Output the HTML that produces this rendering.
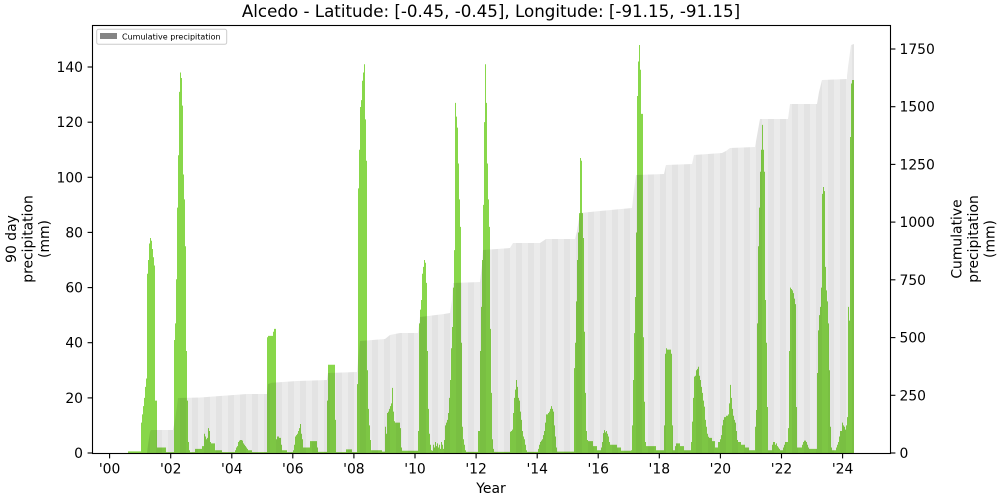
<!DOCTYPE html>
<html><head><meta charset="utf-8"><style>
html,body{margin:0;padding:0;background:#fff;}
svg{display:block;font-family:"DejaVu Sans","Liberation Sans",sans-serif;}
</style></head><body>
<svg width="1000" height="500" viewBox="0 0 1000 500" xmlns="http://www.w3.org/2000/svg">
<defs>
<pattern id="str" x="0" y="0" width="12" height="500" patternUnits="userSpaceOnUse">
<rect x="0" y="0" width="6" height="500" fill="rgba(0,0,0,0.035)"/>
</pattern>
</defs>
<rect width="1000" height="500" fill="#fff"/>
<text x="491" y="17" font-size="16.7" text-anchor="middle" fill="#000">Alcedo - Latitude: [-0.45, -0.45], Longitude: [-91.15, -91.15]</text>

<g transform="translate(0,453) scale(1,-2.757)">
<path fill="#88d74a" d="M128,0 V0.6 H141 V11 H142 V14 H143 V17 H144 V20 H145 V24 H146 V27 H147 V65 H148 V70 H149 V76 H150 V78 H151 V77 H152 V74 H153 V71 H154 V68 H155 V19 H157 V2 H166 V0.3 H174 V41 H175 V47 H176 V63 H177 V89 H178 V108 H179 V131 H180 V138 H181 V136 H182 V126 H183 V101 H184 V92 H185 V75 H186 V37 H187 V19 H188 V4 H189 V1 H190 V0.3 H195 V1.5 H202 V2.5 H204 V7 H205 V6 H206 V5 H207 V5.5 H208 V9 H209 V8 H210 V4 H211 V3.5 H215 V1 H222 V0.3 H235 V1 H236 V2 H237 V2.5 H238 V4 H239 V4.5 H240 V4.7 H242 V4.5 H243 V3.5 H244 V3 H245 V2.5 H246 V2 H247 V1.5 H248 V1 H252 V0.3 H267 V42 H268 V42.5 H273 V44 H274 V45 H276 V5 H277 V6 H279 V5.5 H281 V3 H282 V1 H287 V0.3 H293 V1 H294 V3 H295 V6 H296 V6.5 H297 V7 H298 V8 H299 V9 H300 V10.5 H301 V7 H302 V5 H303 V2 H310 V4.3 H317 V2 H318 V0.4 H327 V19 H328 V32 H335 V12 H336 V0.3 H346 V1.3 H352 V0.3 H357 V25 H358 V96 H359 V110 H360 V125.5 H361 V128 H362 V135 H363 V138 H364 V141 H365 V121 H366 V106 H367 V30 H368 V16 H369 V10 H370 V4.7 H371 V1 H382 V0.5 H385 V9.5 H386 V7 H387 V14.5 H388 V15 H389 V16 H390 V17 H391 V18 H392 V23.6 H393 V15 H394 V11.5 H395 V11 H400 V9 H401 V2 H402 V0.8 H418 V8 H419 V47 H420 V52 H421 V55.5 H422 V65 H423 V67.5 H424 V70 H425 V69 H426 V61.7 H427 V37 H428 V16 H429 V7 H430 V3 H431 V1 H432 V0.8 H433 V3 H434 V2 H435 V4 H436 V2.5 H437 V3.5 H438 V2 H439 V3 H440 V1.5 H441 V4 H442 V3 H443 V1.5 H444 V4.7 H445 V10 H446 V11 H447 V12 H448 V14.5 H449 V20 H450 V26.5 H451 V38 H452 V45.7 H453 V60 H454 V73.6 H455 V127 H456 V122 H457 V118 H458 V105 H459 V92 H460 V82 H461 V40 H462 V9.5 H463 V5 H464 V3 H465 V1 H466 V0.4 H478 V8 H480 V37 H481 V53 H482 V70 H483 V90 H484 V120 H485 V141 H486 V127 H487 V105 H488 V92 H489 V82 H490 V45 H491 V21.8 H492 V5 H493 V1.5 H494 V0.4 H510 V7.7 H511 V8 H512 V8.5 H513 V14.5 H514 V20 H515 V23 H516 V26.5 H517 V24 H518 V20 H519 V19 H520 V15 H521 V12 H522 V8 H523 V6 H524 V5 H525 V3 H526 V1 H527 V0.4 H538 V1.5 H539 V3 H540 V4 H541 V4.5 H542 V5 H543 V6.5 H544 V8 H545 V11 H546 V14 H548 V14.5 H549 V15 H550 V16 H551 V17 H552 V16 H553 V15 H554 V10 H555 V6 H556 V2 H557 V0.5 H574 V30.8 H575 V40 H576 V55 H577 V70 H578 V80 H579 V87 H580 V107 H581 V106 H582 V87 H583 V78 H584 V44 H585 V21.8 H586 V8 H587 V4.7 H588 V4.3 H593 V2.5 H597 V1 H601 V2 H602 V4 H603 V7.2 H604 V8.3 H605 V7.5 H606 V8 H607 V7 H608 V6 H609 V4 H610 V3 H617 V2 H621 V0.8 H631 V1 H632 V10 H633 V26.5 H634 V43.5 H635 V56.6 H636 V80 H637 V129.5 H638 V142 H639 V148 H640 V139 H641 V123 H643 V42 H644 V18.6 H645 V4 H646 V2.5 H656 V1 H664 V10 H665 V36 H666 V38 H667 V37.5 H671 V36 H672 V10 H673 V1 H675 V2.5 H676 V3.5 H680 V2.5 H684 V1 H691 V4 H692 V11.4 H693 V20 H694 V27.7 H695 V28 H696 V30 H697 V30.5 H698 V31.3 H699 V28 H700 V26.5 H701 V24 H702 V21.8 H703 V19 H704 V16.8 H705 V12 H706 V9.5 H707 V7 H708 V5.9 H709 V5.5 H712 V4.3 H715 V2 H718 V4 H720 V5 H721 V6.5 H722 V10 H723 V12 H724 V13 H726 V13.5 H728 V14 H729 V18 H730 V24.7 H731 V20 H732 V16 H733 V13.5 H734 V12 H735 V11 H736 V8 H737 V4.7 H738 V4 H741 V3 H745 V2 H749 V1 H755 V9.5 H756 V15.6 H757 V47 H758 V75 H759 V89 H760 V102 H761 V110 H762 V119 H763 V110 H764 V102 H765 V55.5 H766 V40 H767 V16.7 H768 V1 H772 V3 H773 V4 H775 V3 H776 V3.5 H777 V2.5 H778 V2 H779 V1.5 H780 V1 H783 V2 H784 V3 H785 V4 H788 V9 H789 V37 H790 V60 H791 V59.5 H792 V59 H793 V58 H794 V56 H795 V54 H796 V16.7 H797 V2 H802 V3 H803 V4 H804 V4.5 H806 V4 H807 V3 H808 V2 H809 V1.5 H817 V29 H818 V44.5 H819 V50 H820 V53 H821 V60 H822 V94 H823 V96.5 H824 V95 H825 V67.5 H826 V59 H827 V55 H828 V47 H829 V30 H830 V9.5 H831 V2 H832 V1 H836 V2 H837 V3 H838 V4 H839 V6 H840 V8 H842 V11 H843 V10 H844 V9.5 H845 V8.5 H846 V10 H847 V13 H848 V53 H849 V48 H850 V114.6 H851 V134 H852 V135.3 H854 V0 Z"/>
</g>

<path id="cum" fill="rgba(0,0,0,0.08)" d="M147,453 L148,445 L150,432 L151,430 L173,430 L175,420 L177,406 L178,398 L200,397.5 L220,396 L247,394 L267,394 L268,384 L272,382.7 L297,381 L327,380 L328,373 L357,372 L358,360 L360,341 L385,339 L390,335 L400,333 L418,333 L420,317 L444,314 L450,313 L452,300 L453,283 L480,282 L482,265 L483,250 L510,248 L513,243 L540,243 L546,239 L575,239 L577,231 L580,213 L600,211 L632,208 L634,190 L636,175 L664,174 L666,165 L692,164 L694,155 L722,153 L726,151 L730,148 L755,147 L758,130 L760,119 L788,119 L790,104 L817,104 L819,92 L822,80 L847,79 L847,76 L848,67 L851,45 L854,44 L854,453 Z"/>
<path fill="url(#str)" d="M147,453 L148,445 L150,432 L151,430 L173,430 L175,420 L177,406 L178,398 L200,397.5 L220,396 L247,394 L267,394 L268,384 L272,382.7 L297,381 L327,380 L328,373 L357,372 L358,360 L360,341 L385,339 L390,335 L400,333 L418,333 L420,317 L444,314 L450,313 L452,300 L453,283 L480,282 L482,265 L483,250 L510,248 L513,243 L540,243 L546,239 L575,239 L577,231 L580,213 L600,211 L632,208 L634,190 L636,175 L664,174 L666,165 L692,164 L694,155 L722,153 L726,151 L730,148 L755,147 L758,130 L760,119 L788,119 L790,104 L817,104 L819,92 L822,80 L847,79 L847,76 L848,67 L851,45 L854,44 L854,453 Z"/>

<!-- axes frame -->
<rect x="92.5" y="25.5" width="798" height="428" fill="none" stroke="#000" stroke-width="1.1"/>

<!-- left ticks -->
<g stroke="#000" stroke-width="1.1">
<line x1="87.6" y1="453" x2="92.5" y2="453"/>
<line x1="87.6" y1="397.9" x2="92.5" y2="397.9"/>
<line x1="87.6" y1="342.7" x2="92.5" y2="342.7"/>
<line x1="87.6" y1="287.6" x2="92.5" y2="287.6"/>
<line x1="87.6" y1="232.4" x2="92.5" y2="232.4"/>
<line x1="87.6" y1="177.3" x2="92.5" y2="177.3"/>
<line x1="87.6" y1="122.2" x2="92.5" y2="122.2"/>
<line x1="87.6" y1="67" x2="92.5" y2="67"/>
<!-- right ticks -->
<line x1="890.5" y1="453" x2="895.4" y2="453"/>
<line x1="890.5" y1="395.3" x2="895.4" y2="395.3"/>
<line x1="890.5" y1="337.6" x2="895.4" y2="337.6"/>
<line x1="890.5" y1="279.8" x2="895.4" y2="279.8"/>
<line x1="890.5" y1="222.1" x2="895.4" y2="222.1"/>
<line x1="890.5" y1="164.4" x2="895.4" y2="164.4"/>
<line x1="890.5" y1="106.7" x2="895.4" y2="106.7"/>
<line x1="890.5" y1="49" x2="895.4" y2="49"/>
<!-- bottom ticks -->
<line x1="109.6" y1="453.5" x2="109.6" y2="458.4"/>
<line x1="170.7" y1="453.5" x2="170.7" y2="458.4"/>
<line x1="231.8" y1="453.5" x2="231.8" y2="458.4"/>
<line x1="292.8" y1="453.5" x2="292.8" y2="458.4"/>
<line x1="353.9" y1="453.5" x2="353.9" y2="458.4"/>
<line x1="415" y1="453.5" x2="415" y2="458.4"/>
<line x1="476.1" y1="453.5" x2="476.1" y2="458.4"/>
<line x1="537.2" y1="453.5" x2="537.2" y2="458.4"/>
<line x1="598.2" y1="453.5" x2="598.2" y2="458.4"/>
<line x1="659.3" y1="453.5" x2="659.3" y2="458.4"/>
<line x1="720.4" y1="453.5" x2="720.4" y2="458.4"/>
<line x1="781.5" y1="453.5" x2="781.5" y2="458.4"/>
<line x1="842.6" y1="453.5" x2="842.6" y2="458.4"/>
</g>

<g font-size="13.9" fill="#000" text-anchor="end">
<text x="83" y="458">0</text>
<text x="83" y="402.9">20</text>
<text x="83" y="347.7">40</text>
<text x="83" y="292.6">60</text>
<text x="83" y="237.4">80</text>
<text x="83" y="182.3">100</text>
<text x="83" y="127.2">120</text>
<text x="83" y="72">140</text>
</g>
<g font-size="13.9" fill="#000" text-anchor="start">
<text x="899.5" y="458">0</text>
<text x="899.5" y="400.3">250</text>
<text x="899.5" y="342.6">500</text>
<text x="899.5" y="284.8">750</text>
<text x="899.5" y="227.1">1000</text>
<text x="899.5" y="169.4">1250</text>
<text x="899.5" y="111.7">1500</text>
<text x="899.5" y="54">1750</text>
</g>
<g font-size="13.9" fill="#000" text-anchor="middle">
<text x="109.6" y="473.5">'00</text>
<text x="170.7" y="473.5">'02</text>
<text x="231.8" y="473.5">'04</text>
<text x="292.8" y="473.5">'06</text>
<text x="353.9" y="473.5">'08</text>
<text x="415" y="473.5">'10</text>
<text x="476.1" y="473.5">'12</text>
<text x="537.2" y="473.5">'14</text>
<text x="598.2" y="473.5">'16</text>
<text x="659.3" y="473.5">'18</text>
<text x="720.4" y="473.5">'20</text>
<text x="781.5" y="473.5">'22</text>
<text x="842.6" y="473.5">'24</text>
<text x="491" y="493">Year</text>
</g>

<g font-size="13.9" fill="#000" text-anchor="middle">
<text transform="translate(16,239) rotate(-90)">90 day</text>
<text transform="translate(32.5,239) rotate(-90)">precipitation</text>
<text transform="translate(49,239) rotate(-90)">(mm)</text>
<text transform="translate(961.5,239) rotate(-90)">Cumulative</text>
<text transform="translate(978,239) rotate(-90)">precipitation</text>
<text transform="translate(994.5,239) rotate(-90)">(mm)</text>
</g>

<!-- legend -->
<rect x="96.7" y="29.3" width="130" height="15" rx="2" ry="2" fill="rgba(255,255,255,0.8)" stroke="#cccccc" stroke-width="1"/>
<rect x="100" y="33" width="17" height="6" fill="#848484"/>
<text x="122" y="39.3" font-size="8" fill="#000">Cumulative precipitation</text>
</svg>
</body></html>
